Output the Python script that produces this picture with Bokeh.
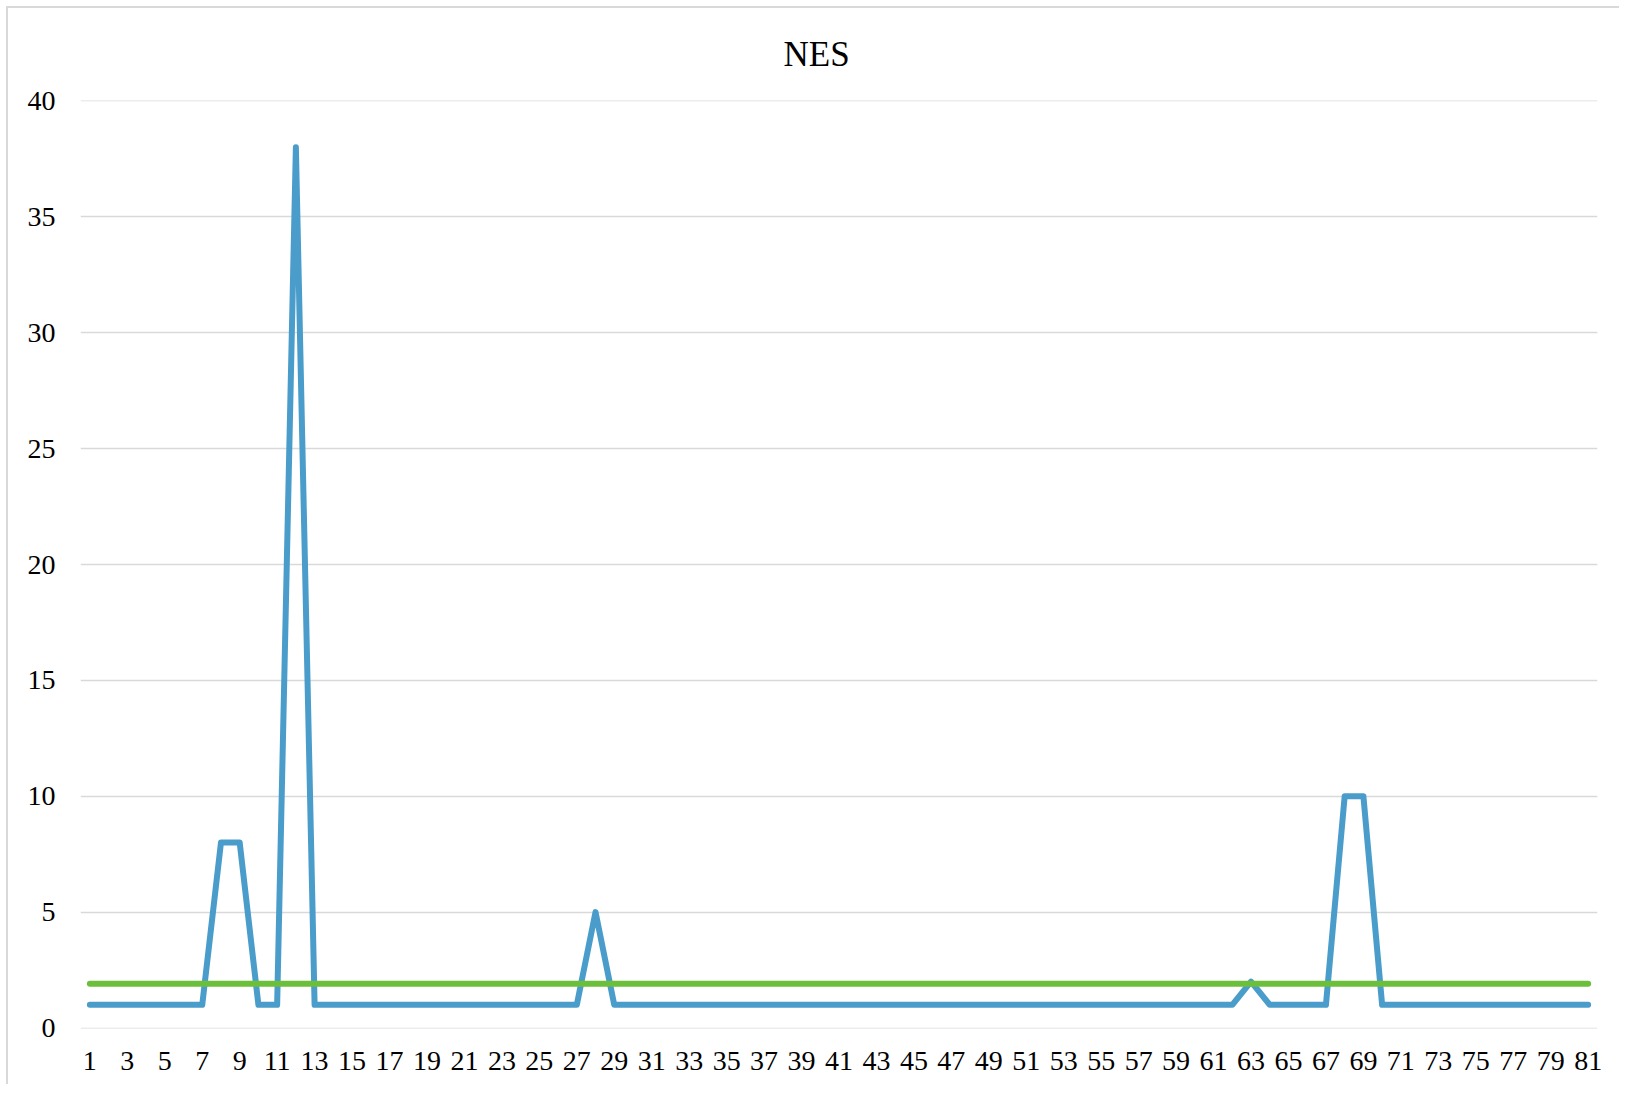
from bokeh.plotting import figure
from bokeh.models import FixedTicker, Range1d
from bokeh.embed import file_html
from bokeh.resources import INLINE

# ---- data ----
categories = list(range(1, 82))
nes_values = [1, 1, 1, 1, 1, 1, 1, 8, 8, 1,
              1, 38, 1, 1, 1, 1, 1, 1, 1, 1,
              1, 1, 1, 1, 1, 1, 1, 5, 1, 1,
              1, 1, 1, 1, 1, 1, 1, 1, 1, 1,
              1, 1, 1, 1, 1, 1, 1, 1, 1, 1,
              1, 1, 1, 1, 1, 1, 1, 1, 1, 1,
              1, 1, 2, 1, 1, 1, 1, 10, 10, 1,
              1, 1, 1, 1, 1, 1, 1, 1, 1, 1,
              1]
average_level = 1.91
x_tick_values = list(range(1, 82, 2))
y_tick_values = [0, 5, 10, 15, 20, 25, 30, 35, 40]
title_text = "NES"

FONT = "Liberation Serif"
GRID = "#d9d9d9"

p = figure(width=1613, height=1078, output_backend="svg", toolbar_location=None,
           x_range=Range1d(0.5, 81.5), y_range=Range1d(-0.02, 40.02),
           min_border_left=72, min_border_right=24, min_border_top=92, min_border_bottom=58,
           title=title_text)

p.styles = {"border-left": "2px solid #d9d9d9", "border-top": "2px solid #d9d9d9",
            "margin-left": "6px", "margin-top": "6px"}

p.outline_line_color = None
p.background_fill_color = "white"
p.border_fill_color = "white"

p.title.text_font = FONT
p.title.text_font_size = "35px"
p.title.text_font_style = "normal"
p.title.text_color = "black"
p.title.align = "left"
p.title.offset = 703
p.title.vertical_align = "top"
p.title.standoff = 50

# x axis
p.xaxis.ticker = FixedTicker(ticks=x_tick_values)
p.xaxis.axis_line_color = None
p.xaxis.major_tick_line_color = None
p.xaxis.minor_tick_line_color = None
p.xaxis.major_tick_out = 0
p.xaxis.major_tick_in = 0
p.xaxis.major_label_standoff = 23
p.xaxis.major_label_text_font = FONT
p.xaxis.major_label_text_font_size = "28px"
p.xaxis.major_label_text_color = "black"

# y axis
p.yaxis.ticker = FixedTicker(ticks=y_tick_values)
p.yaxis.axis_line_color = None
p.yaxis.major_tick_line_color = None
p.yaxis.minor_tick_line_color = None
p.yaxis.major_tick_out = 0
p.yaxis.major_tick_in = 0
p.yaxis.major_label_standoff = 25
p.yaxis.major_label_text_font = FONT
p.yaxis.major_label_text_font_size = "28px"
p.yaxis.major_label_text_color = "black"

p.xgrid.grid_line_color = None
p.ygrid.grid_line_color = GRID
p.ygrid.grid_line_width = 1.5

p.line(categories, nes_values, line_color="#4a9dcb", line_width=6,
       line_join="round", line_cap="round")
p.line(categories, [average_level] * len(categories), line_color="#6cbf3a", line_width=6,
       line_join="round", line_cap="round")

open("out.html", "w").write(file_html(p, INLINE))
